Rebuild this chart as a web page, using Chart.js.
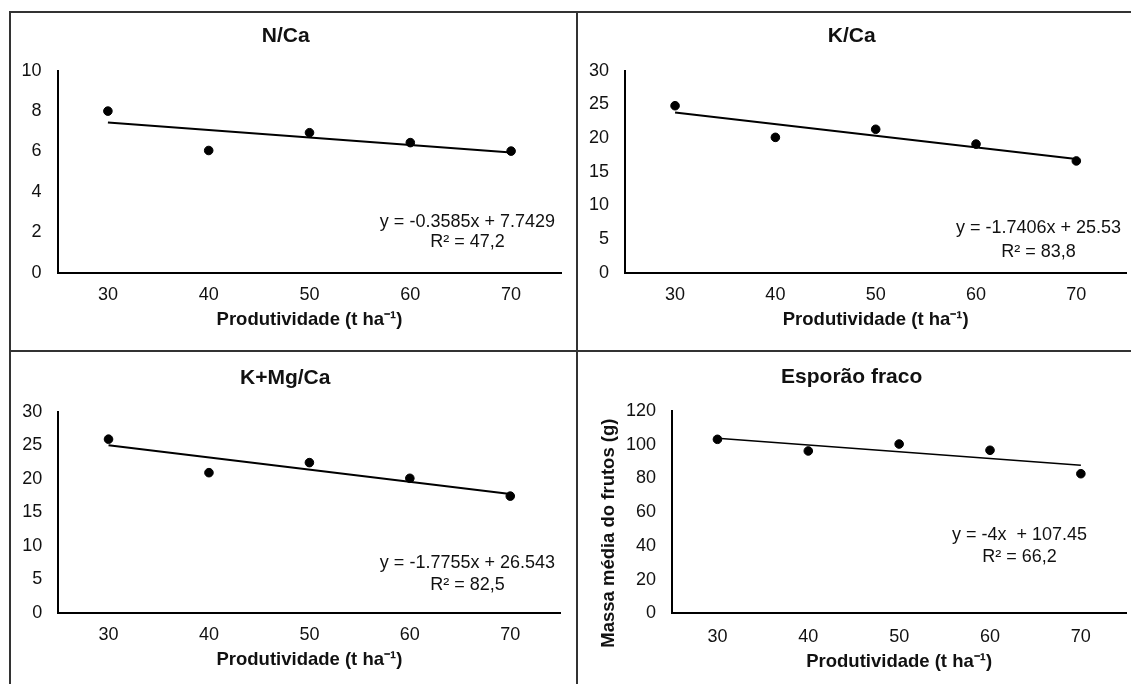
<!DOCTYPE html>
<html>
<head>
<meta charset="utf-8">
<script src="https://cdn.jsdelivr.net/npm/chart.js@4.4.1/dist/chart.umd.min.js"></script>
<style>
  html, body { margin: 0; padding: 0; background: #fff; overflow: hidden; }
  body { width: 1131px; height: 684px; position: relative; }
  canvas { position: absolute; }
  .rule { position: absolute; background: #333; }
</style>
</head>
<body>
<div class="rule" style="left:9px; top:11px; width:1140px; height:2px;"></div>
<div class="rule" style="left:9px; top:11px; width:2px; height:700px;"></div>
<div class="rule" style="left:576px; top:11px; width:2px; height:700px;"></div>
<div class="rule" style="left:9px; top:350px; width:1140px; height:2px;"></div>

<canvas id="chartNCa" width="567" height="339" style="left:10px; top:12px;"></canvas>
<canvas id="chartKCa" width="567" height="339" style="left:577px; top:12px;"></canvas>
<canvas id="chartKMgCa" width="567" height="339" style="left:10px; top:351px;"></canvas>
<canvas id="chartEsporao" width="567" height="339" style="left:577px; top:351px;"></canvas>

<script>
// produtividade (t/ha) classes
var xValues = [30, 40, 50, 60, 70];
var xTicks = [30, 40, 50, 60, 70];
var trendX = [30, 70];

var nCa = [8.0, 6.05, 6.93, 6.44, 6.02];
var nCaTrend = [7.43, 5.95];

var kCa = [24.8, 20.1, 21.3, 19.1, 16.6];
var kCaTrend = [23.8, 16.9];

var kMgCa = [25.9, 20.9, 22.4, 20.06, 17.4];
var kMgCaTrend = [25.0, 17.7];

var esporao = [103.2, 96.3, 100.4, 96.7, 82.8];
var esporaoTrend = [103.8, 87.8];

var FONT = '"Liberation Sans", Arial, sans-serif';
var xTitle = 'Produtividade (t ha\u207B\u00B9)';

function pairs(xs, ys) {
  var out = [];
  for (var i = 0; i < xs.length; ++i) {
    out.push({x: xs[i], y: ys[i]});
  }
  return out;
}

// two-line trendline label (centred block anchored to the plot corner)
// plus an optional rotated y title, which Excel centres lower than the plot
var panelText = {
  id: 'panelText',
  afterDraw: function(chart, args, opts) {
    var ctx = chart.ctx;
    var area = chart.chartArea;
    ctx.save();
    ctx.font = '18px ' + FONT;
    ctx.fillStyle = '#111';
    ctx.textAlign = 'center';
    ctx.textBaseline = 'middle';
    var w = ctx.measureText(opts.lines[0]).width;
    var cx = area.right - opts.dx - w / 2;
    ctx.fillText(opts.lines[0], cx, area.bottom - opts.dy1);
    ctx.fillText(opts.lines[1], cx, area.bottom - opts.dy2);

    if (opts.yTitle) {
      ctx.font = 'bold 18.5px ' + FONT;
      ctx.translate(opts.yTitleX, (area.top + area.bottom) / 2 + opts.yTitleShift);
      ctx.rotate(-Math.PI / 2);
      ctx.fillText(opts.yTitle, 0, 0);
    }
    ctx.restore();
  }
};

function makeChart(id, cfg) {
  return new Chart(document.getElementById(id), {
    type: 'scatter',
    data: {
      datasets: [
        {
          type: 'line',
          label: 'Tendência',
          data: pairs(trendX, cfg.trend),
          borderColor: '#000',
          borderWidth: cfg.trendWidth,
          pointRadius: 0,
          fill: false
        },
        {
          label: cfg.title,
          data: pairs(xValues, cfg.values),
          backgroundColor: '#000',
          borderColor: '#000',
          pointRadius: 4.3,
          pointHoverRadius: 4.3
        }
      ]
    },
    plugins: [panelText],
    options: {
      responsive: false,
      animation: false,
      layout: {padding: {left: 0, right: cfg.padRight, top: 0, bottom: 0}},
      plugins: {
        legend: {display: false},
        tooltip: {enabled: false},
        title: {
          display: true,
          text: cfg.title,
          color: '#111',
          font: {size: 21, weight: 'bold', family: FONT, lineHeight: 1.2},
          padding: {top: cfg.titleTop, bottom: cfg.titleBottom}
        },
        panelText: cfg.text
      },
      scales: {
        x: {
          type: 'linear',
          min: 25,
          max: 75,
          grid: {display: false, drawTicks: false},
          border: {display: true, color: '#000', width: 2},
          ticks: {padding: cfg.xTickPad, color: '#111', font: {size: 18, family: FONT}},
          afterBuildTicks: function(axis) {
            axis.ticks = xTicks.map(function(v) { return {value: v}; });
          },
          afterFit: function(scale) { scale.height = cfg.xHeight; },
          title: {
            display: true,
            text: xTitle,
            color: '#111',
            font: {size: 18.5, weight: 'bold', family: FONT},
            padding: {top: 0, bottom: cfg.xTitlePad}
          }
        },
        y: {
          min: cfg.yMin,
          max: cfg.yMax,
          grid: {display: false, drawTicks: false},
          border: {display: true, color: '#000', width: 2},
          ticks: {stepSize: cfg.yStep, padding: 16, color: '#111', font: {size: 18, family: FONT}},
          afterFit: function(scale) { scale.width = cfg.yWidth; }
        }
      }
    }
  });
}

makeChart('chartNCa', {
  title: 'N/Ca', values: nCa, trend: nCaTrend, trendWidth: 2,
  yMin: 0, yMax: 10, yStep: 2, yWidth: 47.5, padRight: 15.5,
  titleTop: 12.1, titleBottom: 21.4, xHeight: 78.3, xTickPad: 11.5, xTitlePad: 19.9,
  text: {lines: ['y = -0.3585x + 7.7429', 'R\u00B2 = 47,2'], dx: 6.5, dy1: 51, dy2: 31}
});

makeChart('chartKCa', {
  title: 'K/Ca', values: kCa, trend: kCaTrend, trendWidth: 2,
  yMin: 0, yMax: 30, yStep: 5, yWidth: 47.9, padRight: 17.5,
  titleTop: 12.1, titleBottom: 21.4, xHeight: 78.3, xTickPad: 11.5, xTitlePad: 19.9,
  text: {lines: ['y = -1.7406x + 25.53', 'R\u00B2 = 83,8'], dx: 5.5, dy1: 44.4, dy2: 21}
});

makeChart('chartKMgCa', {
  title: 'K+Mg/Ca', values: kMgCa, trend: kMgCaTrend, trendWidth: 2,
  yMin: 0, yMax: 30, yStep: 5, yWidth: 48.3, padRight: 16.5,
  titleTop: 14.7, titleBottom: 20.8, xHeight: 77.3, xTickPad: 11.5, xTitlePad: 18.9,
  text: {lines: ['y = -1.7755x + 26.543', 'R\u00B2 = 82,5'], dx: 5.5, dy1: 49.4, dy2: 27.7}
});

makeChart('chartEsporao', {
  title: 'Esporão fraco', values: esporao, trend: esporaoTrend, trendWidth: 1.5,
  yMin: 0, yMax: 120, yStep: 20, yWidth: 95, padRight: 17.7,
  titleTop: 14.1, titleBottom: 20.7, xHeight: 76.7, xTickPad: 12.6, xTitlePad: 17.2,
  text: {
    lines: ['y = -4x  + 107.45', 'R\u00B2 = 66,2'], dx: 39.3, dy1: 78.3, dy2: 56.6,
    yTitle: 'Massa média do frutos (g)', yTitleX: 32.4, yTitleShift: 21
  }
});
</script>
</body>
</html>
